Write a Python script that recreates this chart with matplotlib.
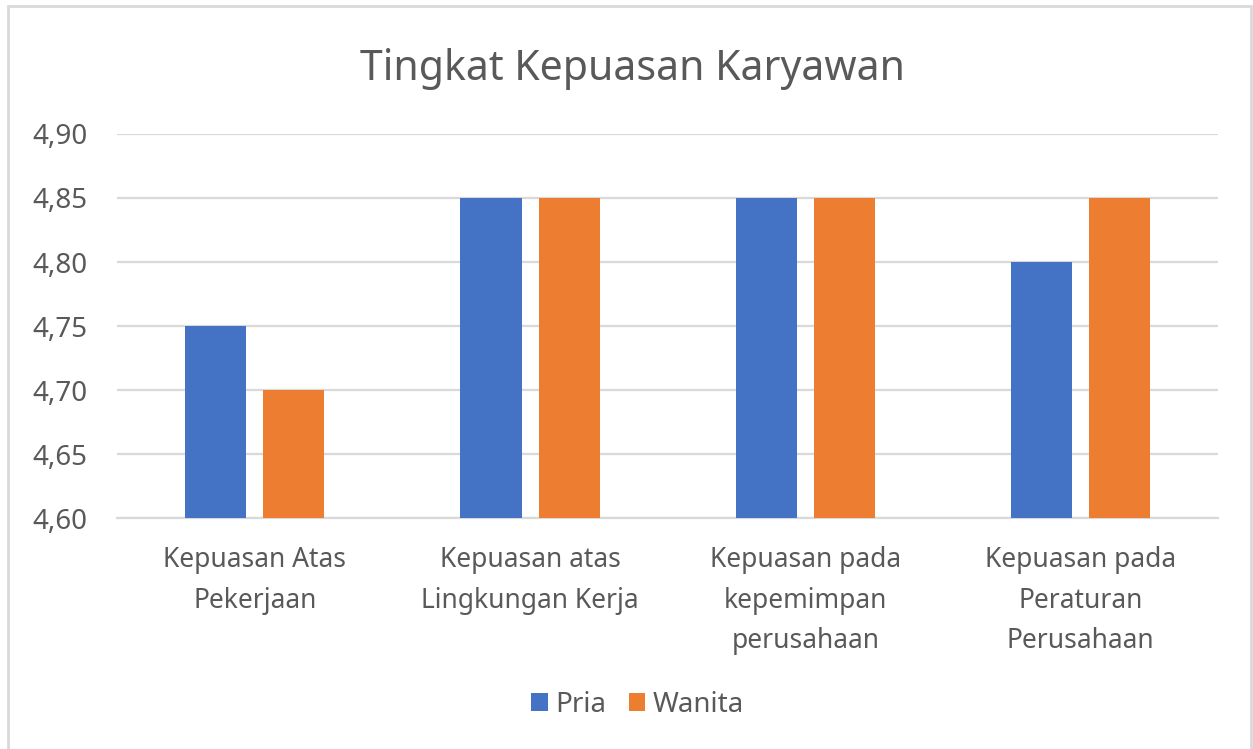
import matplotlib.pyplot as plt
import numpy as np
from matplotlib.patches import Rectangle

plt.rcParams['font.family'] = ['Noto Sans', 'DejaVu Sans']

categories = ['Kepuasan Atas\nPekerjaan', 'Kepuasan atas\nLingkungan Kerja',
              'Kepuasan pada\nkepemimpan\nperusahaan', 'Kepuasan pada\nPeraturan\nPerusahaan']
pria = [4.75, 4.85, 4.85, 4.80]
wanita = [4.70, 4.85, 4.85, 4.85]
yticks = [4.60, 4.65, 4.70, 4.75, 4.80, 4.85, 4.90]

blue = '#4472C4'
orange = '#ED7D31'
text_col = '#595959'
grid_col = '#D9D9D9'

fig = plt.figure(figsize=(12.53, 7.49), dpi=100)
ax = fig.add_axes([0.0934, 0.3084, 0.879, 0.5127])

x = np.arange(len(categories))
w = 0.222
off = 0.142
ax.bar(x - off, pria, w, bottom=0, color=blue, label='Pria', zorder=3)
ax.bar(x + off, wanita, w, bottom=0, color=orange, label='Wanita', zorder=3)

ax.set_xlim(-0.5, len(categories) - 0.5)
ax.set_ylim(4.60, 4.90)
ax.set_yticks(yticks)
ax.set_yticklabels([f'{v:.2f}'.replace('.', ',') for v in yticks])
ax.set_xticks(x)
ax.set_xticklabels(categories, linespacing=1.58)

ax.yaxis.grid(True, color=grid_col, linewidth=1.6, zorder=0)
for s in ['top', 'right', 'left']:
    ax.spines[s].set_visible(False)
ax.spines['bottom'].set_color(grid_col)
ax.spines['bottom'].set_linewidth(1.6)
ax.tick_params(axis='both', length=0, colors=text_col)
ax.tick_params(axis='y', labelsize=20, pad=21)
ax.tick_params(axis='x', labelsize=19, pad=20.5)

fig.text(0.505, 0.908, 'Tingkat Kepuasan Karyawan', ha='center', va='center',
         fontsize=29.5, color=text_col)

leg = ax.legend(loc='center', bbox_to_anchor=(0.5088, 0.059), bbox_transform=fig.transFigure,
                ncol=2, frameon=False, fontsize=20, handlelength=0.6, handleheight=0.65,
                handletextpad=0.28, columnspacing=0.8)
for t in leg.get_texts():
    t.set_color(text_col)

fig.patches.append(Rectangle((8 / 1253, -0.01), 1243 / 1253, 1 - 6 / 749 + 0.01,
                             transform=fig.transFigure, fill=False,
                             edgecolor='#D9D9D9', linewidth=2))

fig.savefig('out.png', dpi=100, facecolor='white')
